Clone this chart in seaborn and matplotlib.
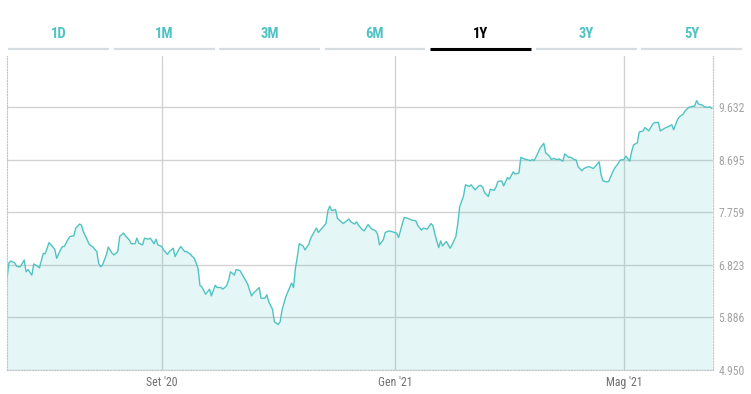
import pandas as pd
import matplotlib.pyplot as plt
import seaborn as sns
from matplotlib import font_manager
from matplotlib.lines import Line2D

# period selector tabs
tab_labels = ["1D", "1M", "3M", "6M", "1Y", "3Y", "5Y"]
active_tab = "1Y"

# price series: days since start date, value
start_date = "2020-06-12"
days = [
    0, 1, 2, 4, 5, 6, 7, 9, 10, 11, 13, 14, 16, 17, 19, 20, 22, 23, 25, 26, 28,
    29, 30, 32, 33, 35, 36, 38, 39, 40, 42, 43, 45, 47, 48, 49, 50, 52, 53, 55, 56, 58,
    59, 61, 62, 64, 65, 67, 68, 69, 71, 72, 74, 75, 77, 78, 79, 81, 82, 84, 85, 87,
    88, 90, 91, 93, 94, 96, 98, 99, 100, 101, 102, 104, 106, 107, 109, 110, 112,
    113, 115, 116, 117, 119, 120, 122, 123, 125, 126,
    128, 129, 130, 132, 133, 135, 136, 137, 139, 140, 142, 143, 144, 146, 148, 149,
    150, 151, 152, 153, 155, 156, 158, 159, 160, 162, 163, 165, 167, 168, 169, 170,
    172, 173, 175, 176, 178, 179, 180, 182, 183, 184, 186, 187, 189,
    191, 193, 194, 195, 197, 198, 200, 202, 204, 205, 207, 208, 210, 212, 214, 215,
    217, 218, 220, 222, 223, 224, 226, 227, 228, 230, 232, 233, 235, 236, 237, 239,
    240, 242, 243, 245, 247, 248,
    249, 250, 252, 253, 255, 256, 257, 259, 260, 262, 263, 265, 266, 268, 269, 270,
    272, 274, 275, 276, 278, 279, 281, 282, 284, 285, 286, 288, 289, 291, 292, 294,
    295, 297, 298, 299, 301, 302, 304, 305, 307, 309, 310, 311,
    312, 314, 315, 317, 318, 320, 321, 323, 324, 326, 327, 328, 330, 331, 333, 334,
    336, 338, 339, 341, 342, 343, 345, 347, 348, 349, 351, 352, 354, 355, 357, 359,
    360, 361, 362, 364, 365, 367, 368, 369,
]
values = [
    6570, 6860, 6890, 6860, 6800, 6790, 6790, 6910, 6700, 6740, 6640, 6840, 6800,
    6770, 7030, 7020, 7220, 7180, 7100, 6940, 7090, 7150, 7150, 7280, 7330, 7340,
    7480, 7550, 7530, 7410, 7270, 7190, 7140, 7060, 6850, 6790, 6820, 7000, 7140,
    7030, 7000, 7060,
    7330, 7390, 7340, 7270, 7200, 7200, 7300, 7210, 7180, 7300, 7280, 7300, 7200,
    7280, 7180, 7150, 7090, 7010, 7060, 7120, 6970, 7100, 7150, 7060, 7060, 7010,
    6940, 6860, 6760, 6460, 6430, 6300, 6390, 6270, 6460, 6420, 6420, 6390, 6450,
    6550, 6700, 6640, 6740, 6720, 6660, 6540, 6480,
    6270, 6320, 6350, 6420, 6230, 6230, 6290, 6170, 6030, 5810, 5760, 5810, 6020,
    6260, 6420, 6500, 6420, 6760, 6970, 7200, 7160, 7090, 7190, 7300, 7360, 7480,
    7400, 7480, 7560, 7790, 7870, 7790, 7810, 7650, 7590, 7560, 7610, 7640, 7590,
    7550, 7590, 7530, 7450, 7430, 7540,
    7460, 7430, 7370, 7180, 7270, 7400, 7430, 7410, 7390, 7310, 7560, 7670, 7650,
    7620, 7610, 7530, 7440, 7480, 7460, 7560, 7520, 7370, 7130, 7250, 7160, 7240,
    7120, 7180, 7330, 7560, 7860, 8050, 8250, 8220, 8250, 8160, 8230, 8240,
    8210, 8110, 8040, 8170, 8150, 8210, 8310, 8320, 8230, 8380, 8350, 8480, 8440,
    8460, 8740, 8720, 8700, 8680, 8700, 8680, 8820, 8900, 8990, 8820, 8760, 8700,
    8720, 8700, 8710, 8670, 8800, 8740, 8740, 8700, 8690, 8570, 8500, 8540, 8570,
    8570, 8540, 8620, 8660, 8430,
    8320, 8300, 8310, 8470, 8540, 8630, 8690, 8700, 8760, 8670, 8840, 8960, 9000,
    9190, 9210, 9270, 9210, 9330, 9360, 9360, 9210, 9230, 9270, 9300, 9320, 9230,
    9410, 9460, 9510, 9570, 9630, 9650, 9650, 9750, 9690, 9670, 9640, 9630, 9640,
    9610,
]

# axis ticks
y_ticks = [4950, 5886, 6823, 7759, 8695, 9632]
x_tick_dates = ["2020-09-01", "2021-01-01", "2021-05-01"]
x_tick_labels = ["Set '20", "Gen '21", "Mag '21"]

LINE = "#4fc3c3"
TEXT = "#a3a3a3"
GRID = "#d2d2d2"

sns.set_style("white")
available = {f.name for f in font_manager.fontManager.ttflist}
font = next(
    (f for f in ["Liberation Sans Narrow", "Roboto Condensed", "Roboto"] if f in available),
    "DejaVu Sans",
)
plt.rcParams["font.family"] = [font, "DejaVu Sans"]

df = pd.DataFrame(
    {
        "date": pd.to_datetime(start_date) + pd.to_timedelta(days, unit="D"),
        "value": values,
    }
)

fig = plt.figure(figsize=(7.51, 3.94), dpi=100)
ax = fig.add_axes([7 / 751, 1 - 370 / 394, 706 / 751, 314 / 394])

sns.lineplot(data=df, x="date", y="value", color=LINE, linewidth=1.0, ax=ax)
ax.fill_between(df["date"], df["value"], y_ticks[0], color=LINE, alpha=0.15, lw=0)

ax.set_xlim(pd.to_datetime(start_date), pd.to_datetime(start_date) + pd.Timedelta(days=369.6))
ax.set_ylim(y_ticks[0], 10545)

ax.set_yticks(y_ticks)
ax.set_yticklabels([f"{v:,}".replace(",", ".") for v in y_ticks])
ax.yaxis.tick_right()
ax.set_xticks(pd.to_datetime(x_tick_dates))
ax.set_xticklabels(x_tick_labels)
ax.tick_params(axis="both", length=0, colors=TEXT, labelsize=8.5)
ax.tick_params(axis="y", pad=4)
ax.tick_params(axis="x", pad=4)
for lab in ax.get_xticklabels():
    lab.set_color("#6f6f6f")

ax.grid(True, color=GRID, linewidth=1)
ax.set_axisbelow(True)
ax.set_xlabel("")
ax.set_ylabel("")

for side in ["left", "right", "bottom"]:
    ax.spines[side].set_visible(True)
    ax.spines[side].set_linestyle((0, (1, 1.5)))
    ax.spines[side].set_color("#c4c4c4")
    ax.spines[side].set_linewidth(0.8)
ax.spines["top"].set_visible(False)

# tab strip above the chart
tab_y = 1 - 49 / 394
for i, label in enumerate(tab_labels):
    x0 = (8 + i * 105.5) / 751
    x1 = x0 + 101 / 751
    active = label == active_tab
    fig.add_artist(
        Line2D(
            [x0, x1], [tab_y, tab_y], transform=fig.transFigure,
            color="black" if active else "#d8dde1", linewidth=2.2 if active else 1.6,
            solid_capstyle="butt",
        )
    )
    fig.text(
        (x0 + x1) / 2, 1 - 33.5 / 394, label, ha="center", va="center",
        fontsize=10.5, fontweight="bold", color="black" if active else LINE,
    )

plt.savefig("out.png", dpi=100)
plt.close()
